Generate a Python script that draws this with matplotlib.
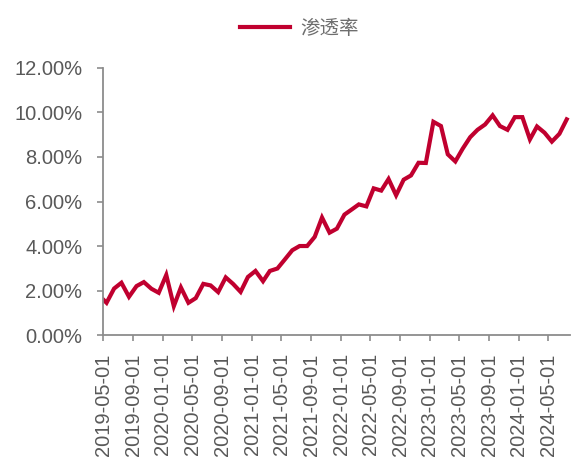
import numpy as np
import pandas as pd
import matplotlib
matplotlib.use("Agg")
import matplotlib.pyplot as plt
import matplotlib.dates as mdates
from matplotlib.ticker import FuncFormatter, MultipleLocator

plt.rcParams['font.family'] = ['Liberation Sans', 'Noto Sans CJK SC', 'DejaVu Sans']

# series: first point on 2019-05-01, then one reading per month (mid-month)
first_date = pd.Timestamp('2019-05-01')
first_value = 1.60
months = pd.date_range('2019-05-01', '2024-07-01', freq='MS')
values = [1.45, 2.09, 2.35, 1.72, 2.20, 2.38, 2.08, 1.90, 2.70, 1.30,
          2.14, 1.45, 1.66, 2.30, 2.23, 1.93, 2.59, 2.30, 1.94, 2.61,
          2.88, 2.42, 2.88, 2.99, 3.39, 3.81, 4.00, 4.00, 4.41, 5.28,
          4.60, 4.78, 5.41, 5.65, 5.87, 5.78, 6.59, 6.49, 7.01, 6.28,
          6.98, 7.17, 7.74, 7.73, 9.58, 9.39, 8.12, 7.80, 8.37, 8.89,
          9.22, 9.46, 9.87, 9.39, 9.22, 9.79, 9.79, 8.79, 9.37, 9.09,
          8.69, 9.04, 9.69]
series_name = '渗透率'
tick_dates = pd.date_range('2019-05-01', '2024-05-01', freq='4MS')

dates = [first_date] + list(months + pd.Timedelta(days=14))
pct = np.array([first_value] + values) / 100

red = '#C0002F'
gray = '#8C8C8C'
txt = '#595959'

fig = plt.figure(figsize=(5.73, 4.59), dpi=100)
ax = fig.add_axes([0.180, 0.270, 0.815, 0.582])

ax.plot(dates, pct, color=red, lw=3, label=series_name, solid_joinstyle='miter')

ax.set_ylim(0, 0.12)
ax.yaxis.set_major_locator(MultipleLocator(0.02))
ax.yaxis.set_major_formatter(FuncFormatter(lambda v, p: f'{v*100:.2f}%'))
ax.set_xlim(pd.Timestamp('2019-05-01'), pd.Timestamp('2024-07-29'))
ax.set_xticks(tick_dates)
ax.xaxis.set_major_formatter(mdates.DateFormatter('%Y-%m-%d'))

for s in ['top', 'right']:
    ax.spines[s].set_visible(False)
for s in ['left', 'bottom']:
    ax.spines[s].set_color(gray)
    ax.spines[s].set_linewidth(1.3)

ax.tick_params(axis='y', colors=gray, labelcolor=txt, labelsize=14.5,
               length=4, width=1.2, pad=11)
ax.tick_params(axis='x', colors=gray, labelcolor=txt, labelsize=14.5,
               length=4, width=1.2, pad=9, labelrotation=90)

fig.legend(loc='upper center', bbox_to_anchor=(0.522, 1.0), frameon=False,
           prop={'family': ['Noto Sans CJK SC'], 'size': 14},
           handlelength=2.6, handletextpad=0.5, labelcolor='#6E6E6E')

fig.savefig('out.png', dpi=100)
